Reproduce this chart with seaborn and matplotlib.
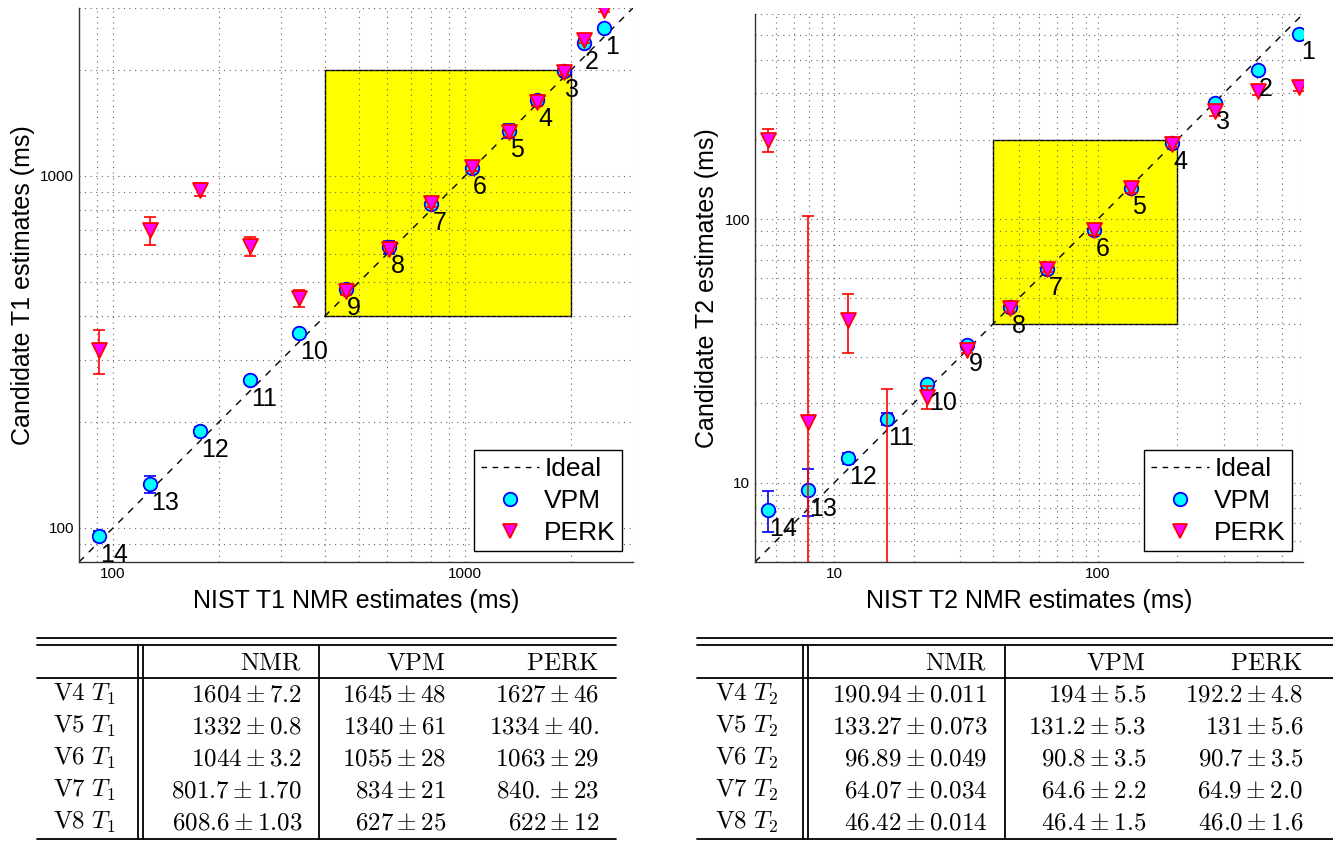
import numpy as np
import pandas as pd
import matplotlib
matplotlib.use('Agg')
import matplotlib.pyplot as plt
import seaborn as sns
from matplotlib.lines import Line2D
from matplotlib.patches import Rectangle
from matplotlib.ticker import LogLocator, FuncFormatter, NullFormatter

# NIST phantom spheres 1..14
sphere = list(range(1, 15))

t1_nmr = [2480, 2173, 1907, 1604, 1332, 1044, 801.7, 608.6, 458.4, 336.5, 244.2, 176.6, 126.9, 90.9]
t1_vpm = [2630, 2390, 1985, 1645, 1340, 1055, 834, 627, 478, 358, 263, 188, 133, 95]
t1_vpm_err = [45, 60, 50, 48, 61, 28, 21, 25, 12, 8, 6, 5, 7, 3]
t1_perk = [2965, 2440, 1980, 1627, 1334, 1063, 840, 622, 470, 450, 632, 915, 701, 320]
t1_perk_err = [40, 50, 45, 46, 40, 29, 23, 12, 12, 25, 40, 40, 64, 46]

t2_nmr = [581.3, 403.5, 278.1, 190.94, 133.27, 96.89, 64.07, 46.42, 31.97, 22.56, 15.813, 11.237, 7.911, 5.592]
t2_vpm = [506, 368, 276, 194, 131.2, 90.8, 64.6, 46.4, 33.2, 23.6, 17.4, 12.4, 9.4, 7.9]
t2_vpm_err = [10, 9, 7, 5.5, 5.3, 3.5, 2.2, 1.5, 1.0, 0.8, 0.9, 0.6, 1.9, 1.4]
t2_perk = [318, 307, 256, 192.2, 131, 90.7, 64.9, 46.0, 32.0, 21.2, 3.0, 41.5, 17.0, 200]
t2_perk_err = [12, 12, 10, 4.8, 5.6, 3.5, 2.0, 1.6, 1.0, 2.1, 19.7, 10.5, 86, 20.5]

# table contents
row_names = ['V4', 'V5', 'V6', 'V7', 'V8']
col_names = ['NMR', 'VPM', 'PERK']
t1_table = [
    [r'1604 \pm 7.2', r'1645 \pm 48', r'1627 \pm 46'],
    [r'1332 \pm 0.8', r'1340 \pm 61', r'1334 \pm 40.'],
    [r'1044 \pm 3.2', r'1055 \pm 28', r'1063 \pm 29'],
    [r'801.7 \pm 1.70', r'834 \pm 21', r'840. \pm 23'],
    [r'608.6 \pm 1.03', r'627 \pm 25', r'622 \pm 12'],
]
t2_table = [
    [r'190.94 \pm 0.011', r'194 \pm 5.5', r'192.2 \pm 4.8'],
    [r'133.27 \pm 0.073', r'131.2 \pm 5.3', r'131 \pm 5.6'],
    [r'96.89 \pm 0.049', r'90.8 \pm 3.5', r'90.7 \pm 3.5'],
    [r'64.07 \pm 0.034', r'64.6 \pm 2.2', r'64.9 \pm 2.0'],
    [r'46.42 \pm 0.014', r'46.4 \pm 1.5', r'46.0 \pm 1.6'],
]

sns.set_style('white')
plt.rcParams['font.family'] = ['Liberation Sans', 'DejaVu Sans']
plt.rcParams['mathtext.fontset'] = 'cm'
plt.rcParams['text.color'] = 'black'
plt.rcParams['axes.labelcolor'] = 'black'

W, H = 1333, 842
fig = plt.figure(figsize=(W / 100, H / 100), dpi=100)


def px_rect(x0, y0, x1, y1):
    return [x0 / W, 1 - y1 / H, (x1 - x0) / W, (y1 - y0) / H]


def draw_panel(ax, nmr, vpm, vpm_err, perk, perk_err, lims, box, name):
    df = pd.DataFrame({'sphere': sphere, 'nmr': nmr, 'vpm': vpm, 'perk': perk})
    ax.set_xscale('log')
    ax.set_yscale('log')
    ax.set_xlim(lims)
    ax.set_ylim(lims)

    ax.add_patch(Rectangle((box[0], box[0]), box[1] - box[0], box[1] - box[0],
                           facecolor='#ffff00', edgecolor='black', lw=1.0, zorder=0.2))
    ax.plot(lims, lims, color='black', ls=(0, (5, 5)), lw=1.0, zorder=2, label='Ideal')

    ax.errorbar(nmr, vpm, yerr=vpm_err, fmt='none', ecolor='blue', elinewidth=1.2,
                capsize=4, capthick=1.2, zorder=3)
    sns.scatterplot(data=df, x='nmr', y='vpm', ax=ax, marker='o', s=95,
                    color='#00ffff', edgecolor='blue', linewidth=1.3, zorder=4, label='VPM')
    ax.errorbar(nmr, perk, yerr=perk_err, fmt='none', ecolor='red', elinewidth=1.2,
                capsize=4, capthick=1.2, zorder=5)
    sns.scatterplot(data=df, x='nmr', y='perk', ax=ax, marker='v', s=115,
                    color='#ff00ff', edgecolor='red', linewidth=1.3, zorder=6, label='PERK')

    for i, s in enumerate(sphere):
        ax.annotate(str(s), (nmr[i], vpm[i]), xytext=(1, -5), textcoords='offset points',
                    ha='left', va='top', fontsize=18, color='black', zorder=7,
                    annotation_clip=False)

    for axis in (ax.xaxis, ax.yaxis):
        axis.set_major_locator(LogLocator(base=10))
        axis.set_minor_locator(LogLocator(base=10, subs=np.arange(2, 10)))
        axis.set_major_formatter(FuncFormatter(lambda v, p: '%g' % v))
        axis.set_minor_formatter(NullFormatter())
    ax.set_axisbelow(True)
    ax.grid(True, which='both', color='0.4', ls=(0, (1, 4)), lw=0.8)
    ax.tick_params(which='both', direction='in', labelsize=11, colors='black')
    ax.tick_params(which='major', length=4, width=0.8)
    ax.tick_params(which='minor', length=2.5, width=0.8)
    for side in ('top', 'right'):
        ax.spines[side].set_visible(False)
    for side in ('left', 'bottom'):
        ax.spines[side].set_color('0.2')
        ax.spines[side].set_linewidth(1.0)

    ax.set_xlabel('NIST %s NMR estimates (ms)' % name, fontsize=18, labelpad=6)
    ax.set_ylabel('Candidate %s estimates (ms)' % name, fontsize=18, labelpad=4)

    handles = [Line2D([], [], color='black', ls=(0, (4, 4)), lw=1.0),
               Line2D([], [], marker='o', ls='none', ms=9.7, mfc='#00ffff', mec='blue', mew=1.3),
               Line2D([], [], marker='v', ls='none', ms=10.7, mfc='#ff00ff', mec='red', mew=1.3)]
    leg = ax.legend(handles, ['Ideal', 'VPM', 'PERK'], loc='lower right', fontsize=19,
                    frameon=True, fancybox=False, framealpha=1, edgecolor='black',
                    borderaxespad=0.4, handlelength=2.2, handletextpad=0.2,
                    labelspacing=0.3, borderpad=0.25)
    leg.get_frame().set_linewidth(1.0)


ax1 = fig.add_axes(px_rect(79, 8, 633, 562))
draw_panel(ax1, t1_nmr, t1_vpm, t1_vpm_err, t1_perk, t1_perk_err, (80, 3000), (400, 2000), 'T1')

ax2 = fig.add_axes(px_rect(755, 14, 1303, 562))
draw_panel(ax2, t2_nmr, t2_vpm, t2_vpm_err, t2_perk, t2_perk_err, (5, 600), (40, 200), 'T2')


def fline(x0, y0, x1, y1, lw=1.3):
    fig.add_artist(Line2D([x0 / W, x1 / W], [1 - y0 / H, 1 - y1 / H], color='black', lw=lw,
                          transform=fig.transFigure))


def draw_table(x_left, x_right, x_dbl, x_single, x_label, col_right, rows, sub):
    for y in (638, 645, 678, 839):
        fline(x_left, y, x_right, y)
    fline(x_dbl, 645, x_dbl, 839)
    fline(x_dbl + 5, 645, x_dbl + 5, 839)
    fline(x_single, 645, x_single, 839)
    for c, name in enumerate(col_names):
        fig.text(col_right[c] / W, 1 - 670 / H, r'$\mathrm{%s}$' % name, ha='right',
                 va='baseline', fontsize=18)
    for r, rn in enumerate(row_names):
        yb = 701 + 32 * r
        fig.text(x_label / W, 1 - yb / H, r'$\mathrm{%s}\ T_%s$' % (rn, sub), ha='left',
                 va='baseline', fontsize=18)
        for c in range(3):
            fig.text(col_right[c] / W, 1 - yb / H, '$%s$' % rows[r][c], ha='right',
                     va='baseline', fontsize=18)


draw_table(37, 616, 138, 319, 53, (302, 446, 599), t1_table, '1')
draw_table(697, 1340, 803, 1005, 715, (987, 1146, 1303), t2_table, '2')

fig.savefig('out.png', dpi=100)
